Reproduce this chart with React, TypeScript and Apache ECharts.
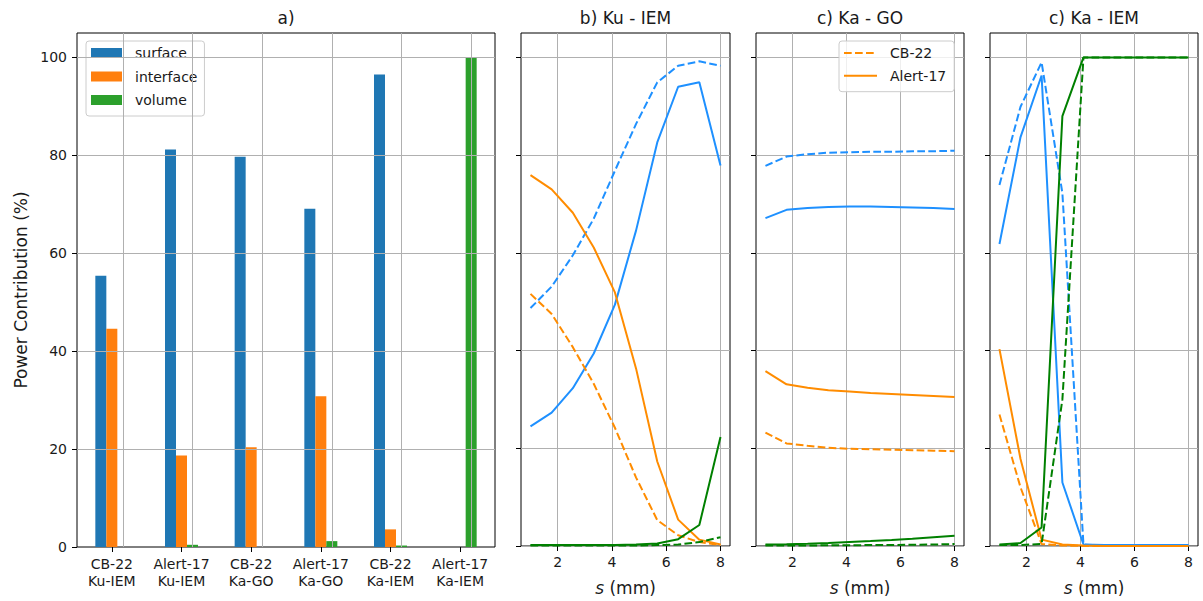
import React, { useEffect, useRef } from 'react';
import * as echarts from 'echarts';

const FONT = "'DejaVu Sans', 'Noto Sans', sans-serif";
const TEXT = '#1a1a1a';
const BLUE = '#1E90FF';
const ORANGE = '#FF8C00';
const GREEN = '#008000';
const GRIDLINE = '#b0b0b0';

// ---- panel a (bars) ----
const barCategories = [
  'CB-22\nKu-IEM',
  'Alert-17\nKu-IEM',
  'CB-22\nKa-GO',
  'Alert-17\nKa-GO',
  'CB-22\nKa-IEM',
  'Alert-17\nKa-IEM',
];
const surfaceBars = [55.4, 81.2, 79.7, 69.1, 96.5, 0];
const interfaceBars = [44.6, 18.7, 20.4, 30.8, 3.6, 0];
const volumeBars = [0, 0.45, 0, 1.2, 0.3, 100];

// ---- panels b-d (lines) ----
const sValues = [1, 1.78, 2.56, 3.33, 4.11, 4.89, 5.67, 6.44, 7.22, 8];

// b) Ku - IEM
const kuIemCb22Surface = [48.7, 53.1, 59.5, 67.0, 76.8, 86.4, 94.9, 98.3, 99.2, 98.3];
const kuIemAlertSurface = [24.5, 27.3, 32.3, 39.4, 49.4, 64.6, 82.6, 94.0, 94.9, 77.9];
const kuIemCb22Interface = [51.6, 47.5, 40.7, 33.2, 24.2, 14.0, 5.3, 2.2, 0.8, 0.2];
const kuIemAlertInterface = [75.9, 73.0, 68.2, 61.1, 51.9, 36.3, 17.3, 5.4, 1.3, 0.3];
const kuIemCb22Volume = [0.1, 0.1, 0.1, 0.1, 0.1, 0.1, 0.2, 0.3, 0.8, 1.8];
const kuIemAlertVolume = [0.2, 0.2, 0.2, 0.2, 0.2, 0.3, 0.5, 1.4, 4.3, 22.3];

// c) Ka - GO
const kaGoCb22Surface = [77.8, 79.7, 80.2, 80.5, 80.6, 80.7, 80.7, 80.8, 80.8, 80.9];
const kaGoAlertSurface = [67.1, 68.8, 69.2, 69.4, 69.5, 69.5, 69.4, 69.3, 69.2, 69.0];
const kaGoCb22Interface = [23.2, 21.0, 20.5, 20.1, 19.9, 19.8, 19.7, 19.6, 19.5, 19.4];
const kaGoAlertInterface = [35.8, 33.1, 32.4, 31.9, 31.6, 31.3, 31.1, 30.9, 30.7, 30.5];
const kaGoCb22Volume = [0.1, 0.1, 0.1, 0.15, 0.15, 0.2, 0.2, 0.25, 0.3, 0.4];
const kaGoAlertVolume = [0.3, 0.35, 0.45, 0.6, 0.8, 1.0, 1.25, 1.5, 1.8, 2.1];

// d) Ka - IEM
const kaIemCb22Surface = [73.9, 89.9, 99.0, 72.2, 0.3, 0.1, 0.1, 0.1, 0.1, 0.1];
const kaIemAlertSurface = [61.8, 83.7, 96.3, 13.0, 0.3, 0.2, 0.2, 0.2, 0.2, 0.2];
const kaIemCb22Interface = [26.9, 12.0, 0.4, 0.1, 0, 0, 0, 0, 0, 0];
const kaIemAlertInterface = [40.3, 17.8, 1.3, 0.3, 0.1, 0, 0, 0, 0, 0];
const kaIemCb22Volume = [0.2, 0.2, 0.4, 30.0, 100, 100, 100, 100, 100, 100];
const kaIemAlertVolume = [0.3, 0.6, 3.8, 88.0, 100, 100, 100, 100, 100, 100];

const yTicks = [0, 20, 40, 60, 80, 100];
const sTicks = [2, 4, 6, 8];
const panelTitles = ['a)', 'b) Ku - IEM', 'c) Ka - GO', 'c) Ka - IEM'];

const grids = [
  { left: 77, top: 33, width: 418, height: 514 },
  { left: 521, top: 33, width: 209, height: 514 },
  { left: 756, top: 33, width: 208, height: 514 },
  { left: 990, top: 33, width: 208, height: 514 },
];

const DASH = [7.7, 3.3];

function lineSeries(name: string, idx: number, ys: number[], color: string, dashed: boolean) {
  return {
    type: 'line',
    name,
    xAxisIndex: idx,
    yAxisIndex: idx,
    data: sValues.map((s, k) => [s, ys[k]]),
    symbol: 'none',
    showSymbol: false,
    clip: true,
    lineStyle: { color, width: 2, type: dashed ? DASH : 'solid' },
    itemStyle: { color },
    emphasis: { disabled: true },
  };
}

function buildOption() {
  const textStyle = { color: TEXT, fontFamily: FONT };

  const xAxes: any[] = grids.map((_, i) => {
    if (i === 0) {
      return {
        type: 'category',
        gridIndex: 0,
        data: barCategories,
        boundaryGap: true,
        axisLine: { show: false },
        axisTick: { show: true, alignWithLabel: true, length: 5, lineStyle: { color: '#000', width: 1 } },
        axisLabel: { interval: 0, fontSize: 14, lineHeight: 16.7, margin: 9, ...textStyle },
        splitLine: { show: false },
      };
    }
    return {
      type: 'value',
      gridIndex: i,
      min: 0.65,
      max: 8.35,
      axisLine: { show: false },
      axisTick: { show: true, length: 5, customValues: sTicks, lineStyle: { color: '#000', width: 1 } },
      axisLabel: { customValues: sTicks, fontSize: 14, margin: 9, ...textStyle },
      splitLine: { show: true, lineStyle: { color: GRIDLINE, width: 1 } },
      name: '{it|s} (mm)',
      nameLocation: 'middle',
      nameGap: 33,
      nameTextStyle: {
        fontSize: 17,
        ...textStyle,
        rich: { it: { fontStyle: 'italic', fontSize: 17, ...textStyle } },
      },
    };
  });

  const yAxes: any[] = grids.map((_, i) => ({
    type: 'value',
    gridIndex: i,
    min: 0,
    max: 105,
    interval: 20,
    axisLine: { show: false },
    axisTick: { show: true, length: 5, customValues: yTicks, lineStyle: { color: '#000', width: 1 } },
    axisLabel: { show: i === 0, customValues: yTicks, fontSize: 14, margin: 10, ...textStyle },
    splitLine: { show: i !== 0, lineStyle: { color: GRIDLINE, width: 1 } },
    name: i === 0 ? 'Power Contribution (%)' : '',
    nameLocation: 'middle',
    nameGap: 48,
    nameTextStyle: { fontSize: 17, ...textStyle },
  }));

  const barBase = { type: 'bar', xAxisIndex: 0, yAxisIndex: 0, barWidth: 11, barGap: '0%', emphasis: { disabled: true } };

  const series: any[] = [
    { ...barBase, name: 'surface', data: surfaceBars, itemStyle: { color: '#1f77b4' } },
    { ...barBase, name: 'interface', data: interfaceBars, itemStyle: { color: '#ff7f0e' } },
    {
      ...barBase,
      name: 'volume',
      data: volumeBars,
      itemStyle: { color: '#2ca02c' },
      markLine: {
        silent: true,
        symbol: ['none', 'none'],
        label: { show: false },
        emphasis: { disabled: true },
        lineStyle: { color: GRIDLINE, width: 1, type: 'solid' },
        data: [
          ...barCategories.map((c) => ({ xAxis: c })),
          ...yTicks.slice(1).map((v) => ({ yAxis: v })),
        ],
      },
    },
    // b) Ku - IEM
    lineSeries('b CB-22 surface', 1, kuIemCb22Surface, BLUE, true),
    lineSeries('b Alert-17 surface', 1, kuIemAlertSurface, BLUE, false),
    lineSeries('b CB-22 interface', 1, kuIemCb22Interface, ORANGE, true),
    lineSeries('b Alert-17 interface', 1, kuIemAlertInterface, ORANGE, false),
    lineSeries('b CB-22 volume', 1, kuIemCb22Volume, GREEN, true),
    lineSeries('b Alert-17 volume', 1, kuIemAlertVolume, GREEN, false),
    // c) Ka - GO
    lineSeries('c CB-22 surface', 2, kaGoCb22Surface, BLUE, true),
    lineSeries('c Alert-17 surface', 2, kaGoAlertSurface, BLUE, false),
    lineSeries('CB-22', 2, kaGoCb22Interface, ORANGE, true),
    lineSeries('Alert-17', 2, kaGoAlertInterface, ORANGE, false),
    lineSeries('c CB-22 volume', 2, kaGoCb22Volume, GREEN, true),
    lineSeries('c Alert-17 volume', 2, kaGoAlertVolume, GREEN, false),
    // d) Ka - IEM
    lineSeries('d CB-22 surface', 3, kaIemCb22Surface, BLUE, true),
    lineSeries('d Alert-17 surface', 3, kaIemAlertSurface, BLUE, false),
    lineSeries('d CB-22 interface', 3, kaIemCb22Interface, ORANGE, true),
    lineSeries('d Alert-17 interface', 3, kaIemAlertInterface, ORANGE, false),
    lineSeries('d CB-22 volume', 3, kaIemCb22Volume, GREEN, true),
    lineSeries('d Alert-17 volume', 3, kaIemAlertVolume, GREEN, false),
  ];

  const legendBox = {
    orient: 'vertical',
    selectedMode: false,
    backgroundColor: 'rgba(255,255,255,0.8)',
    borderColor: '#cccccc',
    borderWidth: 1,
    borderRadius: 3,
    textStyle: { fontSize: 14, lineHeight: 14, padding: [0, 0, 0, 8], ...textStyle },
  };

  return {
    animation: false,
    backgroundColor: '#ffffff',
    textStyle: { fontFamily: FONT },
    title: panelTitles.map((t, i) => ({
      text: t,
      left: grids[i].left + grids[i].width / 2,
      top: 9,
      padding: 0,
      textAlign: 'center',
      textStyle: { fontSize: 17, fontWeight: 'normal', ...textStyle },
    })),
    legend: [
      {
        ...legendBox,
        data: ['surface', 'interface', 'volume'],
        left: 86,
        top: 41,
        padding: [5, 7, 9, 5],
        itemWidth: 31,
        itemHeight: 10,
        itemGap: 9.5,
        icon: 'rect',
      },
      {
        ...legendBox,
        data: ['CB-22', 'Alert-17'],
        left: 839,
        top: 41,
        padding: [5, 8, 9, 4],
        itemWidth: 33,
        itemHeight: 14,
        itemGap: 8.7,
        itemStyle: { opacity: 0 },
        lineStyle: { width: 2 },
      },
    ],
    grid: grids.map((g) => ({
      ...g,
      show: true,
      borderColor: '#000',
      borderWidth: 1,
      backgroundColor: 'transparent',
      containLabel: false,
    })),
    xAxis: xAxes,
    yAxis: yAxes,
    series,
  };
}

export default function App() {
  const ref = useRef<HTMLDivElement>(null);
  useEffect(() => {
    document.body.style.margin = '0';
    if (!ref.current) return;
    const chart = echarts.init(ref.current, undefined, { renderer: 'svg' });
    chart.setOption(buildOption() as any);
    return () => {
      chart.dispose();
    };
  }, []);
  return (
    <div
      ref={ref}
      style={{ position: 'fixed', left: 0, top: 0, width: 1203, height: 601, background: '#fff' }}
    />
  );
}
